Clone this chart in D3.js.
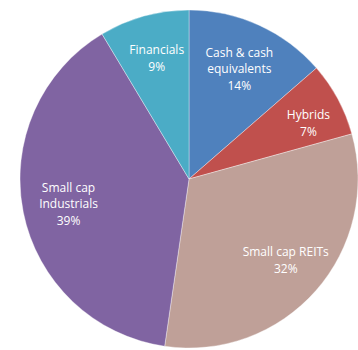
<!DOCTYPE html>
<html>
<head>
<meta charset="utf-8">
<script src="https://cdn.jsdelivr.net/npm/d3@7"></script>
<style>
  html, body { margin: 0; padding: 0; background: #fff; }
  svg { display: block; }
</style>
</head>
<body>
<svg id="chart" width="358" height="350"></svg>
<script>
// Data (clockwise from 12 o'clock)
const categories = ["Cash & cash equivalents", "Hybrids", "Small cap REITs", "Small cap Industrials", "Financials"];
const labelLines = [["Cash & cash", "equivalents"], ["Hybrids"], ["Small cap REITs"], ["Small cap", "Industrials"], ["Financials"]];
const values = [13.6, 7.1, 31.6, 39.1, 8.6];
const colors = ["#4F81BD", "#C0504D", "#BFA098", "#8064A2", "#4BACC6"];

// Layout: label placement (radius in px, angle nudge in degrees) per slice
const labelRadius = [117, 130, 129, 124, 121];
const labelAngleNudge = [1, 5, 0, -2.3, 0];

const svg = d3.select("#chart");
const cx = 189, cy = 179, R = 169;
const g = svg.append("g").attr("transform", `translate(${cx},${cy})`);

const data = categories.map((c, i) => ({ name: c, value: values[i], lines: labelLines[i], color: colors[i], idx: i }));
const pie = d3.pie().value(d => d.value).sort(null);
const arcs = pie(data);
const arc = d3.arc().innerRadius(0).outerRadius(R);

g.selectAll("path").data(arcs).enter().append("path")
  .attr("d", arc)
  .attr("fill", d => d.data.color)
  .attr("stroke", "#ffffff")
  .attr("stroke-opacity", 0.6)
  .attr("stroke-width", 0.6);

const lh = 16.6;
g.selectAll("text.lbl").data(arcs).enter().append("text")
  .attr("class", "lbl")
  .attr("text-anchor", "middle")
  .attr("font-family", "'Open Sans', sans-serif")
  .attr("font-size", "12px")
  .attr("fill", "#ffffff")
  .each(function(d) {
    const i = d.data.idx;
    const a = (d.startAngle + d.endAngle) / 2 + labelAngleNudge[i] * Math.PI / 180;
    const r = labelRadius[i];
    const x = r * Math.sin(a), y = -r * Math.cos(a);
    const lines = d.data.lines.concat([Math.round(d.data.value) + "%"]);
    const y0 = y - (lines.length - 1) * lh / 2;
    const t = d3.select(this);
    lines.forEach((l, k) => {
      t.append("tspan").attr("x", x).attr("y", y0 + k * lh).text(l);
    });
  });
</script>
</body>
</html>
